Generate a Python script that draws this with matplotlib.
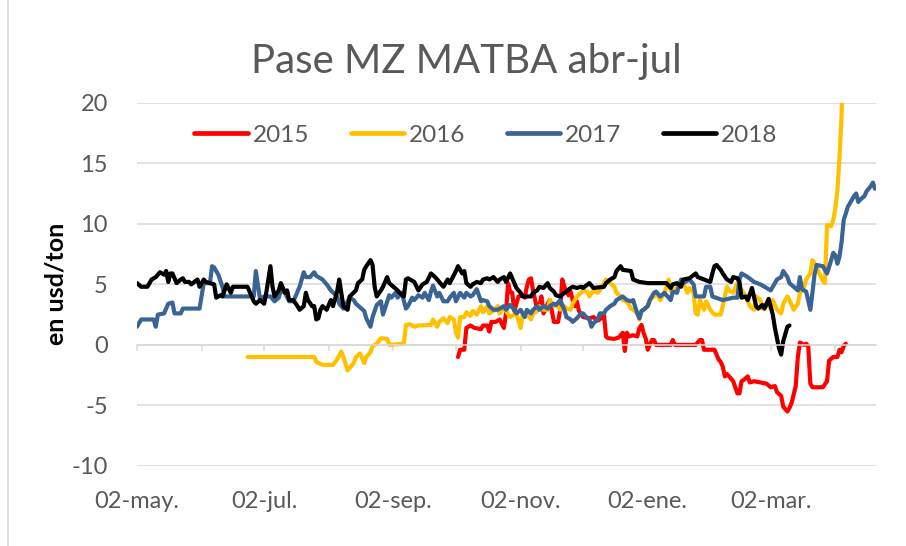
import matplotlib
matplotlib.use("Agg")
import matplotlib.pyplot as plt
from matplotlib.lines import Line2D
from datetime import datetime, timedelta

plt.rcParams['font.family'] = ['Lato', 'DejaVu Sans']
plt.rcParams['axes.unicode_minus'] = False

# ---------------- data (day = days since 02-may) ----------------
title = "Pase MZ MATBA abr-jul"
ylabel = "en usd/ton"
series_names = ["2015", "2016", "2017", "2018"]
series_colors = ["#FF0000", "#FFC000", "#3A6496", "#000000"]

days_2015 = [154, 155, 157, 158, 160, 162, 165, 166, 168, 169, 170, 172, 174, 176, 177, 178, 179, 180,
             181, 183, 185, 186, 187, 188, 189, 190, 192, 193, 194, 195, 197, 198, 200, 202, 203, 204,
             205, 207, 208, 209, 210, 211, 212, 213, 214, 217, 219, 221, 222, 224, 225, 226, 229, 231,
             233, 234, 235, 236, 238, 240, 241, 242, 243, 244, 245, 247, 248, 249, 256, 257, 258, 268,
             270, 271, 272, 274, 277, 279, 280, 281, 282, 283, 285, 286, 288, 289, 290, 291, 293, 294,
             296, 299, 302, 304, 306, 307, 309, 310, 312, 313, 314, 316, 317, 318, 320, 321, 322, 323,
             324, 329, 331, 332, 334, 336, 337, 338, 339, 340]
vals_2015 = [-1.0, -0.4, -0.4, 1.4, 1.6, 1.4, 1.3, 1.6, 1.6, 1.1, 1.9, 1.9, 2.1, 1.4, 2.6, 5.1, 4.4, 4.3,
             2.8, 4.0, 4.1, 3.9, 4.8, 5.4, 5.5, 4.5, 2.9, 3.2, 4.0, 2.6, 3.4, 3.7, 1.9, 1.9, 2.9, 5.4,
             4.8, 4.1, 4.4, 3.7, 3.2, 3.6, 2.8, 2.6, 2.3, 2.2, 2.3, 2.0, 2.1, 2.5, 0.7, 0.55, 0.5, 0.6,
             1.0, -0.5, 1.0, 0.7, 0.8, 0.7, 1.4, 1.65, 1.0, 0.55, -0.4, 0.4, 0.4, 0.0, 0.0, 0.4, 0.0, 0.0,
             0.4, 0.4, -0.4, -0.4, -0.4, -1.2, -1.4, -1.8, -2.6, -2.4, -2.8, -3.0, -4.0, -4.0, -3.0, -2.9, -2.6, -3.1,
             -3.0, -3.1, -3.2, -3.5, -3.4, -3.9, -4.2, -5.1, -5.5, -5.2, -4.8, -3.4, -1.0, 0.2, 0.0, 0.1, -0.1, -3.2,
             -3.5, -3.5, -3.0, -1.3, -1.0, -1.0, -0.4, -0.6, -0.1, 0.1]

days_2016 = [53, 85, 86, 89, 94, 96, 98, 99, 101, 102, 104, 105, 107, 109, 110, 112, 113, 115, 117, 120,
             121, 128, 129, 131, 133, 135, 141, 142, 144, 145, 147, 149, 150, 152, 153, 154, 155, 157,
             158, 160, 161, 163, 165, 166, 168, 169, 171, 173, 174, 176, 177, 179, 181, 182, 184, 185,
             187, 189, 190, 192, 193, 195, 197, 198, 200, 201, 203, 205, 206, 208, 209, 211, 213, 214,
             216, 217, 219, 221, 222, 224, 225, 227, 229, 230, 232, 233, 235, 237, 238, 240, 241, 242,
             243, 245, 246, 248, 249, 251, 253, 254, 255, 256, 257, 259, 261, 262, 264, 265, 267, 268,
             269, 270, 272, 273, 275, 277, 280, 281, 282, 283, 284, 286, 288, 289, 291, 292, 294, 296,
             297, 299, 300, 302, 304, 305, 307, 309, 310, 312, 313, 315, 317, 318, 320, 321, 323, 324,
             326, 327, 329, 330, 331, 333, 334, 335, 336, 337, 338, 339]
vals_2016 = [-1.0, -1.0, -1.4, -1.65, -1.65, -1.2, -0.55, -1.0, -2.1, -1.9, -1.5, -1.0, -0.7, -1.5, -1.0, -0.6, -0.1, 0.1, 0.55, 0.5,
             0.0, 0.1, 1.65, 1.7, 1.5, 1.6, 1.65, 2.1, 1.5, 1.9, 2.2, 1.8, 2.3, 2.1, 1.0, 0.6, 2.3, 2.3,
             2.7, 2.4, 2.8, 2.5, 3.2, 2.7, 3.2, 2.6, 2.8, 3.2, 2.6, 3.1, 2.8, 2.3, 2.5, 2.6, 1.4, 2.5,
             2.6, 2.1, 2.6, 2.8, 3.2, 2.9, 2.9, 3.7, 3.2, 3.4, 2.9, 3.2, 3.0, 2.9, 3.4, 4.0, 4.3, 4.5,
             4.4, 4.0, 4.5, 4.3, 4.5, 5.1, 5.4, 5.1, 4.8, 4.3, 4.0, 3.7, 3.6, 3.0, 2.9, 2.6, 2.1, 2.8,
             2.9, 3.2, 3.7, 4.0, 4.3, 3.7, 4.3, 4.8, 5.4, 4.5, 4.3, 4.8, 5.1, 5.2, 4.3, 4.7, 4.3, 2.6,
             2.5, 3.7, 2.9, 3.6, 2.9, 2.5, 2.5, 3.2, 4.0, 4.8, 4.5, 4.3, 5.1, 4.8, 4.3, 4.0, 3.2, 2.9,
             4.0, 3.7, 3.0, 3.4, 3.0, 3.7, 2.9, 2.6, 3.4, 4.0, 3.7, 2.9, 3.4, 4.3, 4.8, 5.4, 5.9, 7.0,
             6.5, 6.0, 5.3, 5.1, 9.9, 9.8, 10.3, 11.3, 12.8, 15.5, 19.0, 26.0]

days_2017 = [0, 2, 8, 9, 10, 13, 15, 17, 18, 21, 22, 30, 32, 35, 36, 37, 39, 41, 42, 45, 56, 57, 59, 61,
             64, 66, 68, 69, 71, 73, 75, 77, 78, 80, 81, 83, 85, 86, 89, 91, 93, 96, 97, 99, 101, 102,
             104, 105, 107, 109, 110, 112, 113, 115, 117, 118, 121, 122, 124, 125, 127, 129, 130, 132,
             133, 135, 137, 138, 140, 141, 142, 144, 145, 147, 149, 150, 152, 153, 155, 157, 158, 160,
             161, 163, 165, 166, 168, 169, 171, 173, 174, 176, 177, 179, 181, 182, 184, 186, 187, 189,
             190, 192, 193, 195, 197, 198, 200, 201, 203, 205, 206, 208, 209, 211, 213, 214, 216, 217,
             218, 219, 221, 222, 224, 225, 227, 229, 230, 232, 233, 235, 237, 238, 240, 241, 242, 243,
             245, 246, 248, 249, 251, 253, 254, 256, 257, 259, 261, 262, 265, 267, 268, 272, 273, 275,
             276, 281, 286, 288, 289, 290, 293, 296, 299, 302, 304, 305, 307, 309, 310, 312, 313, 315,
             317, 318, 319, 321, 323, 324, 325, 326, 329, 331, 333, 334, 335, 336, 337, 338, 339, 341,
             342, 344, 345, 346, 347, 349, 350, 352, 353, 354]
vals_2017 = [1.5, 2.1, 2.1, 1.5, 2.5, 2.6, 3.4, 3.5, 2.6, 2.6, 3.0, 3.0, 5.1, 5.1, 6.5, 6.4, 5.8, 4.8, 4.0, 4.0, 4.0, 6.1, 3.8, 4.0,
             4.0, 3.6, 3.9, 4.5, 4.3, 3.6, 3.6, 4.4, 4.8, 6.0, 5.6, 5.6, 6.0, 5.7, 5.4, 5.0, 4.5, 4.0, 3.4, 3.0, 3.6, 3.9,
             3.7, 3.4, 3.1, 2.8, 2.2, 1.5, 2.3, 3.3, 3.6, 2.5, 4.1, 3.9, 4.3, 3.9, 4.3, 3.0, 3.2, 3.9,
             3.7, 4.1, 3.9, 4.3, 3.7, 4.4, 4.9, 4.0, 4.3, 3.6, 3.6, 3.9, 4.3, 3.6, 4.3, 3.9, 4.3, 4.0,
             4.1, 4.6, 3.6, 3.7, 3.6, 3.2, 2.9, 2.9, 3.0, 3.2, 2.9, 3.3, 2.9, 2.6, 2.9, 2.3, 2.9, 2.6,
             2.9, 3.2, 2.9, 3.2, 3.0, 3.2, 3.4, 3.3, 3.7, 2.9, 2.3, 2.1, 1.9, 2.2, 2.6, 2.6, 2.2, 2.1,
             1.5, 1.8, 2.1, 2.6, 2.6, 2.9, 3.2, 3.4, 3.7, 3.9, 4.0, 3.7, 3.6, 3.7, 2.6, 2.2, 2.8, 2.9,
             3.2, 3.7, 4.3, 4.4, 4.0, 4.3, 4.1, 3.7, 4.4, 4.3, 5.4, 5.1, 5.4, 5.0, 4.0, 4.0, 4.8, 4.8,
             4.0, 3.7, 3.9, 3.9, 5.4, 5.9, 5.6, 5.2, 5.0, 4.7, 4.5, 4.8, 5.4, 5.6, 6.1, 5.6, 5.1, 4.8,
             4.5, 5.6, 4.6, 4.4, 2.9, 4.3, 5.8, 6.6, 6.5, 5.9, 7.0, 7.6, 7.4, 6.7, 7.3, 8.5, 10.3, 11.4,
             11.7, 12.3, 12.5, 11.8, 12.0, 12.3, 12.7, 13.1, 13.4, 12.9]

days_2018 = [0, 2, 5, 7, 9, 11, 13, 14, 15, 16, 17, 19, 21, 22, 23, 25, 26, 29, 30, 32, 33, 35, 37, 38,
             40, 41, 43, 45, 46, 53, 56, 57, 59, 61, 62, 64, 65, 66, 68, 69, 71, 72, 73, 75, 77, 78, 80,
             81, 82, 84, 85, 86, 87, 88, 89, 91, 93, 94, 96, 97, 99, 101, 102, 105, 106, 108, 109, 110,
             112, 113, 114, 115, 117, 118, 120, 121, 123, 125, 126, 128, 129, 130, 133, 135, 137, 139,
             141, 143, 145, 147, 149, 150, 153, 154, 156, 157, 158, 160, 161, 163, 165, 166, 168, 169,
             171, 173, 174, 176, 177, 179, 181, 182, 184, 185, 189, 190, 192, 193, 195, 197, 198, 200,
             201, 203, 205, 206, 208, 209, 211, 213, 214, 217, 219, 224, 225, 227, 229, 230, 232, 233,
             237, 238, 241, 245, 254, 256, 257, 259, 261, 262, 265, 268, 269, 272, 275, 276, 277, 278,
             280, 281, 283, 285, 286, 288, 289, 290, 292, 293, 295, 297, 298, 300, 301, 303, 305, 306,
             308, 309, 310, 312, 313]
vals_2018 = [5.1, 4.8, 4.8, 5.4, 5.6, 6.0, 5.8, 6.1, 5.2, 5.9, 5.9, 5.1, 5.4, 5.5, 5.2, 5.2, 5.0, 5.4, 4.8, 5.4, 5.2, 5.1, 5.0, 3.9,
             4.1, 4.0, 5.0, 4.3, 4.8, 4.8, 3.6, 3.4, 3.7, 3.4, 4.3, 6.5, 4.8, 4.0, 4.5, 5.1, 4.3, 4.5, 3.7, 3.7, 3.2, 2.9, 3.2,
             4.3, 3.7, 3.2, 3.2, 2.1, 2.2, 2.9, 3.2, 2.9, 3.7, 3.2, 4.4, 5.4, 3.2, 2.9, 4.0, 4.5, 5.1, 5.4, 6.2, 6.5,
             7.0, 6.6, 4.8, 4.0, 4.5, 4.8, 5.6, 5.1, 4.8, 4.5, 4.3, 4.0, 5.4, 5.5, 5.2, 4.5, 5.0, 5.2,
             5.9, 5.6, 5.2, 4.8, 5.4, 5.1, 6.1, 6.5, 5.9, 6.1, 5.1, 4.8, 5.0, 5.2, 5.1, 5.4, 5.5, 5.4,
             5.6, 5.2, 5.4, 5.6, 5.2, 5.9, 5.1, 4.7, 4.3, 4.0, 4.0, 4.3, 4.5, 4.8, 4.7, 5.1, 4.7, 4.4,
             4.1, 4.0, 4.3, 4.4, 4.7, 4.8, 4.7, 4.8, 4.7, 5.1, 4.7, 4.8, 5.1, 5.4, 5.6, 6.1, 6.5, 6.2,
             6.1, 5.4, 5.2, 5.1, 5.1, 4.7, 5.0, 5.1, 4.8, 5.4, 5.5, 5.9, 5.6, 5.4, 5.2, 5.9, 6.5, 6.6,
             6.2, 5.9, 5.4, 5.2, 5.6, 5.5, 5.2, 3.9, 4.0, 3.7, 4.7, 3.2, 3.0, 3.3, 3.0, 3.8, 2.5, 1.4,
             -0.3, -0.8, 0.3, 1.5, 1.6]

series_days = [days_2015, days_2016, days_2017, days_2018]
series_vals = [vals_2015, vals_2016, vals_2017, vals_2018]

start = datetime(2017, 5, 2)
span_days = 354.5
month_ticks = [datetime(2017, m, 2) for m in range(5, 13)] + [datetime(2018, m, 2) for m in range(1, 5)]
month_labels = ["02-may.", "", "02-jul.", "", "02-sep.", "", "02-nov.", "", "02-ene.", "", "02-mar.", ""]
y_ticks = [-10, -5, 0, 5, 10, 15, 20]

# ---------------- figure ----------------
W, H = 906, 546
fig = plt.figure(figsize=(W / 100, H / 100), dpi=100)
ax = fig.add_axes([137 / W, 1 - 466 / H, (876 - 137) / W, (466 - 102.7) / H])

grid_c = "#D9D9D9"
text_c = "#595959"

for d, v, name, c in zip(series_days, series_vals, series_names, series_colors):
    xs = [start + timedelta(days=x) for x in d]
    ax.plot(xs, v, color=c, lw=3.0, label=name, solid_joinstyle="round", solid_capstyle="round")

ax.set_ylim(-10, 20)
ax.set_xlim(start, start + timedelta(days=span_days))
ax.set_yticks(y_ticks)
ax.yaxis.grid(True, color=grid_c, lw=1.1)
ax.set_axisbelow(True)
ax.tick_params(axis="y", length=0, pad=21, labelsize=17, labelcolor=text_c)

for s in ["top", "right", "left"]:
    ax.spines[s].set_visible(False)
ax.spines["bottom"].set_position(("data", 0))
ax.spines["bottom"].set_color(grid_c)
ax.spines["bottom"].set_linewidth(1.1)
ax.set_xticks(month_ticks)
ax.tick_params(axis="x", direction="out", length=4, width=1.1, color=grid_c, labelbottom=False)

sec = ax.secondary_xaxis(0.0)
sec.set_xticks(month_ticks)
sec.set_xticklabels(month_labels)
sec.spines["bottom"].set_visible(False)
sec.tick_params(axis="x", length=0, pad=18, labelsize=17, labelcolor=text_c)

ax.set_ylabel(ylabel, fontsize=18, fontweight="bold", color="#000000")
ax.yaxis.set_label_coords((68 - 137) / (876 - 137), 0.5)

fig.text(466 / W, 1 - 61 / H, title, ha="center", va="center", fontsize=29, color=text_c)

leg = ax.legend(loc="center", bbox_to_anchor=(0.472, 0.911), ncol=4, frameon=False,
                fontsize=17.5, handlelength=2.2, handletextpad=0.2, columnspacing=1.7,
                labelcolor=text_c)
for h in leg.legend_handles:
    h.set_linewidth(3.4)

fig.add_artist(Line2D([8 / W, 8 / W], [0, 1], color=grid_c, lw=1.2, transform=fig.transFigure))

fig.savefig("out.png", dpi=100)
